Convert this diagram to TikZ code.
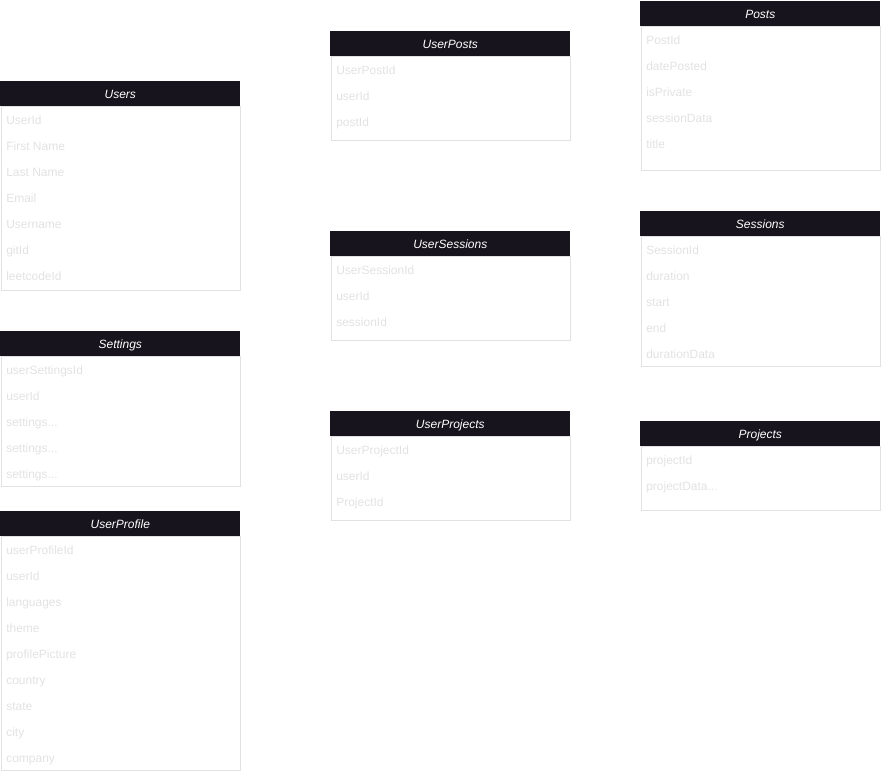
\documentclass[tikz,border=0pt]{standalone}
\usepackage{fontspec}
\setmainfont{Liberation Sans}
\usetikzlibrary{positioning}

\definecolor{headfill}{HTML}{18141D}
\definecolor{fieldtext}{HTML}{E2E2E2}
\definecolor{tableline}{HTML}{E2E2E2}

\newcommand{\moredots}{...}

\tikzset{
  tablehead/.style={fill=headfill, text=white, anchor=north west, inner sep=0,
    minimum width=180pt, minimum height=18.75pt, text height=6.5pt, text depth=0pt,
    font=\fontsize{9}{10}\selectfont\itshape},
  tablebody/.style={draw=tableline, line width=0.75pt, anchor=north west, inner sep=0,
    minimum width=179.25pt},
  field/.style={text=fieldtext, anchor=base west, inner sep=0,
    font=\fontsize{9}{10}\selectfont}
}

\begin{document}
\begin{tikzpicture}[x=0.75pt, y=-0.75pt]
  \useasboundingbox (0,0) rectangle (881,774);

  % left column
  \node [tablebody, minimum height=138pt] (users-body) at (0.5,106) {};
  \node [tablehead] (users) at (0,81) {Users};
  \foreach \f [count=\i] in {UserId, First Name, Last Name, Email, Username, gitId, leetcodeId}
    \node [field] (users-\i) at (6, 98.5+26*\i) {\f};

  \node [tablebody, minimum height=97.5pt] (settings-body) at (0.5,356) {};
  \node [tablehead] (settings) at (0,331) {Settings};
  \foreach \f [count=\i] in {userSettingsId, userId, settings\moredots, settings\moredots, settings\moredots}
    \node [field] (settings-\i) at (6, 348.5+26*\i) {\f};

  \node [tablebody, minimum height=175.5pt] (profile-body) at (0.5,536) {};
  \node [tablehead] (profile) at (0,511) {UserProfile};
  \foreach \f [count=\i] in {userProfileId, userId, languages, theme, profilePicture, country, state, city, company}
    \node [field] (profile-\i) at (6, 528.5+26*\i) {\f};

  % middle column
  \node [tablebody, minimum height=63pt] (userposts-body) at (330.5,56) {};
  \node [tablehead] (userposts) at (330,31) {UserPosts};
  \foreach \f [count=\i] in {UserPostId, userId, postId}
    \node [field] (userposts-\i) at (336, 48.5+26*\i) {\f};

  \node [tablebody, minimum height=63pt] (usersessions-body) at (330.5,256) {};
  \node [tablehead] (usersessions) at (330,231) {UserSessions};
  \foreach \f [count=\i] in {UserSessionId, userId, sessionId}
    \node [field] (usersessions-\i) at (336, 248.5+26*\i) {\f};

  \node [tablebody, minimum height=63pt] (userprojects-body) at (330.5,436) {};
  \node [tablehead] (userprojects) at (330,411) {UserProjects};
  \foreach \f [count=\i] in {UserProjectId, userId, ProjectId}
    \node [field] (userprojects-\i) at (336, 428.5+26*\i) {\f};

  % right column
  \node [tablebody, minimum height=108pt] (posts-body) at (640.5,26) {};
  \node [tablehead] (posts) at (640,1) {Posts};
  \foreach \f [count=\i] in {PostId, datePosted, isPrivate, sessionData, title}
    \node [field] (posts-\i) at (646, 18.5+26*\i) {\f};

  \node [tablebody, minimum height=97.5pt] (sessions-body) at (640.5,236) {};
  \node [tablehead] (sessions) at (640,211) {Sessions};
  \foreach \f [count=\i] in {SessionId, duration, start, end, durationData}
    \node [field] (sessions-\i) at (646, 228.5+26*\i) {\f};

  \node [tablebody, minimum height=48pt] (projects-body) at (640.5,446) {};
  \node [tablehead] (projects) at (640,421) {Projects};
  \foreach \f [count=\i] in {projectId, projectData\moredots}
    \node [field] (projects-\i) at (646, 438.5+26*\i) {\f};
\end{tikzpicture}
\end{document}
